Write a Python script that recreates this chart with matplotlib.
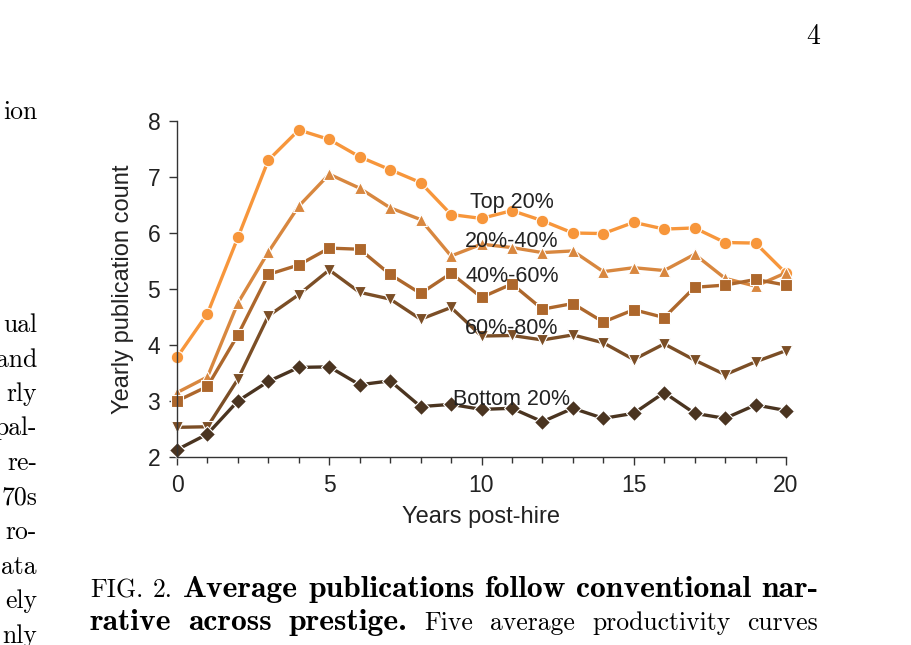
import matplotlib
matplotlib.use("Agg")
import matplotlib.pyplot as plt
from matplotlib.ticker import MultipleLocator

years = list(range(21))

top_20 = [3.78, 4.56, 5.92, 7.30, 7.84, 7.67, 7.36, 7.13, 6.90, 6.33, 6.26,
          6.40, 6.22, 6.00, 5.99, 6.19, 6.07, 6.09, 5.83, 5.82, 5.28]
p20_40 = [3.15, 3.43, 4.75, 5.66, 6.48, 7.05, 6.80, 6.45, 6.24, 5.59, 5.80,
          5.74, 5.65, 5.68, 5.31, 5.38, 5.33, 5.62, 5.19, 5.05, 5.29]
p40_60 = [3.00, 3.26, 4.18, 5.26, 5.43, 5.73, 5.71, 5.26, 4.92, 5.28, 4.85,
          5.09, 4.64, 4.74, 4.41, 4.63, 4.49, 5.03, 5.07, 5.17, 5.07]
p60_80 = [2.53, 2.54, 3.39, 4.52, 4.90, 5.34, 4.94, 4.82, 4.46, 4.67, 4.16,
          4.17, 4.09, 4.18, 4.04, 3.74, 4.02, 3.73, 3.47, 3.70, 3.90]
bottom_20 = [2.13, 2.41, 3.00, 3.35, 3.60, 3.61, 3.29, 3.36, 2.90, 2.94, 2.85,
             2.87, 2.63, 2.87, 2.69, 2.78, 3.15, 2.78, 2.69, 2.93, 2.83]

series = [
    ("Top 20%", top_20, "#f7963b", "o"),
    ("20%-40%", p20_40, "#d8873f", "^"),
    ("40%-60%", p40_60, "#ad672c", "s"),
    ("60%-80%", p60_80, "#7b4e26", "v"),
    ("Bottom 20%", bottom_20, "#4a3420", "D"),
]
# label anchor positions (data coords)
label_pos = [(11.0, 6.55), (11.0, 5.85), (11.0, 5.22), (11.0, 4.3), (11.0, 3.03)]

side_words = ["ual", "and", "rly", "pal-", "re-", "70s", "ro-", "ata", "ely", "nly"]

# (word, is_bold)
caption_lines = [
    [("FIG.", 0), ("2.", 0), ("Average", 1), ("publications", 1), ("follow", 1),
     ("conventional", 1), ("nar-", 1)],
    [("rative", 1), ("across", 1), ("prestige.", 1), ("Five", 0), ("average", 0),
     ("productivity", 0), ("curves", 0)],
]

W, H = 911, 645
fig = plt.figure(figsize=(W / 100, H / 100), dpi=100)

ax = fig.add_axes([177 / W, 1 - 457 / H, (786 - 177) / W, (457 - 121) / H])
sans = "Liberation Sans"

for (name, vals, col, mk), (lx, ly) in zip(series, label_pos):
    ax.plot(years, vals, color=col, lw=2.4, marker=mk, ms=9 if mk != "D" else 8,
            mec="white", mew=0.8, clip_on=False)
    ax.text(lx, ly, name, ha="center", va="center", fontsize=15.5,
            family=sans, color="#222222")

ax.set_xlim(0, 20)
ax.set_ylim(2, 8)
ax.xaxis.set_major_locator(MultipleLocator(5))
ax.xaxis.set_minor_locator(MultipleLocator(1))
ax.yaxis.set_major_locator(MultipleLocator(1))
for s in ["top", "right"]:
    ax.spines[s].set_visible(False)
for s in ["left", "bottom"]:
    ax.spines[s].set_color("#333333")
    ax.spines[s].set_linewidth(1.0)
ax.tick_params(which="major", length=6, width=1.0, color="#333333",
               labelsize=16.5, pad=6)
ax.tick_params(which="minor", length=4, width=1.0, color="#333333")
for lab in ax.get_xticklabels() + ax.get_yticklabels():
    lab.set_family(sans)
    lab.set_color("#222222")
ax.set_xlabel("Years post-hire", fontsize=17, family=sans, color="#222222", labelpad=7)
ax.set_ylabel("Yearly publication count", fontsize=17, family=sans, color="#222222",
              labelpad=10)

# surrounding page text
serif, serif_b = "cmr10", "cmb10"
fs = 18.5
fig.text(820 / W, 1 - 44 / H, "4", ha="right", va="baseline", fontsize=20, family=serif)
fig.text(37 / W, 1 - 119 / H, "ion", ha="right", va="baseline", fontsize=fs, family=serif)
for i, w in enumerate(side_words):
    fig.text(37 / W, 1 - (332 + i * 34.5) / H, w, ha="right", va="baseline",
             fontsize=fs, family=serif)

fig.canvas.draw()
r = fig.canvas.get_renderer()


def text_width(s, size, fam):
    t = fig.text(0, 0, s, fontsize=size, family=fam)
    w = t.get_window_extent(r).width
    t.remove()
    return w


# caption: cmb10 is narrower than the extended bold of the original,
# so bold words get a larger size that makes line 1 fit with ~10px gaps
x0, x1 = 90, 818
gap0 = 10
first = caption_lines[0]
w_norm = sum(text_width(w, fs, serif) for w, b in first if not b)
w_bold = sum(text_width(w, fs, serif_b) for w, b in first if b)
fs_b = fs * ((x1 - x0) - w_norm - gap0 * (len(first) - 1)) / w_bold

for ybase, words in zip([597, 630], caption_lines):
    texts = [fig.text(0, 1 - ybase / H, w, ha="left", va="baseline",
                      fontsize=fs_b if b else fs, family=serif_b if b else serif)
             for w, b in words]
    widths = [t.get_window_extent(r).width for t in texts]
    gap = (x1 - x0 - sum(widths)) / (len(texts) - 1)
    x = x0
    for t, wd in zip(texts, widths):
        t.set_x(x / W)
        x += wd + gap

fig.savefig("out.png", dpi=100)
